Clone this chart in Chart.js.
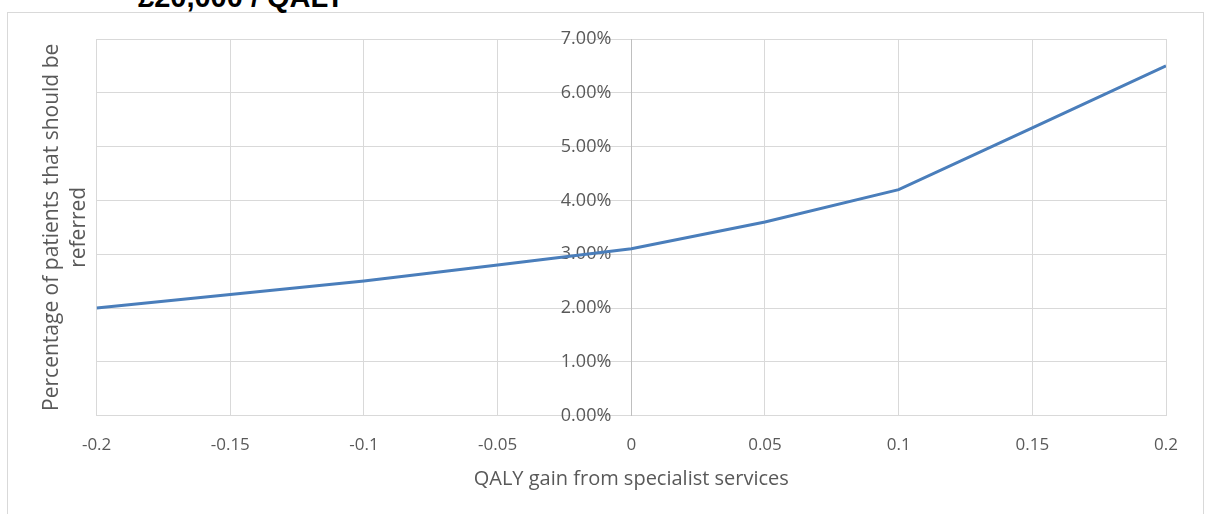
<!DOCTYPE html>
<html>
<head>
<meta charset="utf-8">
<script src="https://cdn.jsdelivr.net/npm/chart.js@4"></script>
<style>
  body { margin: 0; background: #fff; overflow: hidden; }
  #wrap { position: relative; width: 1207px; height: 514px; overflow: hidden; }
  #frame { position: absolute; left: 7px; top: 12px; width: 1195px; height: 520px; border: 1px solid #d9d9d9; }
  #title { position: absolute; left: 138px; top: -17px; font: bold 29px "Liberation Sans", Arial, sans-serif; line-height: 29px; color: #000; white-space: nowrap; }
  canvas { position: absolute; left: 0; top: 0; }
</style>
</head>
<body>
<div id="wrap">
  <div id="frame"></div>
  <div id="title">£20,000 / QALY</div>
  <canvas id="chart" width="1207" height="514"></canvas>
</div>
<script>
const qalyGain = [-0.2, -0.15, -0.1, -0.05, 0, 0.05, 0.1, 0.15, 0.2];
const referredPct = [0.020, 0.0225, 0.025, 0.028, 0.031, 0.036, 0.042, 0.0535, 0.065];
const xTitle = 'QALY gain from specialist services';
const yTitle = ['Percentage of patients that should be', 'referred'];

const textColor = '#595959';
const gridColor = '#d9d9d9';
const tickFont = { family: '"Open Sans", sans-serif', size: 17 };

// y axis sits at x = 0, chart.js ignores tick padding there, so push labels left by hand
const shiftYLabels = {
    id: 'shiftYLabels',
    beforeDraw(chart) {
        const items = chart.scales.y.getLabelItems();
        items.forEach(item => {
            if (!item._shifted) {
                item.options.translation[0] -= 20;
                item._shifted = true;
            }
        });
    }
};

const ctx = document.getElementById('chart').getContext('2d');
const chart = new Chart(ctx, {
    type: 'scatter',
    data: {
        datasets: [{
            data: qalyGain.map((x, i) => ({ x: x, y: referredPct[i] })),
            showLine: true,
            borderColor: '#4a7ebb',
            borderWidth: 3,
            pointRadius: 0,
            tension: 0,
            yAxisID: 'y'
        }]
    },
    options: {
        responsive: false,
        animation: false,
        layout: { padding: { left: 30, right: 41, top: 39, bottom: 23 } },
        plugins: {
            legend: { display: false },
            tooltip: { enabled: false }
        },
        scales: {
            x: {
                type: 'linear',
                min: -0.2,
                max: 0.2,
                position: 'bottom',
                ticks: {
                    stepSize: 0.05,
                    color: textColor,
                    font: tickFont,
                    padding: 0,
                    callback: v => String(Math.round(v * 100) / 100)
                },
                grid: { color: gridColor, drawTicks: true, tickLength: 19, tickColor: 'rgba(0,0,0,0)' },
                border: { color: gridColor },
                title: {
                    display: true,
                    text: xTitle,
                    color: textColor,
                    font: { family: tickFont.family, size: 20 },
                    padding: { top: 12, bottom: 0 }
                }
            },
            y: {
                type: 'linear',
                min: 0,
                max: 0.07,
                position: { x: 0 },
                ticks: {
                    stepSize: 0.01,
                    color: textColor,
                    font: { family: tickFont.family, size: 18 },
                    callback: v => (v * 100).toFixed(2) + '%'
                },
                grid: { color: gridColor, drawTicks: false },
                border: { color: '#bfbfbf' }
            },
            yTitle: {
                type: 'linear',
                position: 'left',
                ticks: { display: false },
                grid: { display: false, drawTicks: false },
                border: { display: false },
                title: {
                    display: true,
                    text: yTitle,
                    color: textColor,
                    font: { family: tickFont.family, size: 21, lineHeight: 1.3 },
                    padding: { top: 8, bottom: 4 }
                }
            }
        }
    },
    plugins: [shiftYLabels]
});
</script>
</body>
</html>
